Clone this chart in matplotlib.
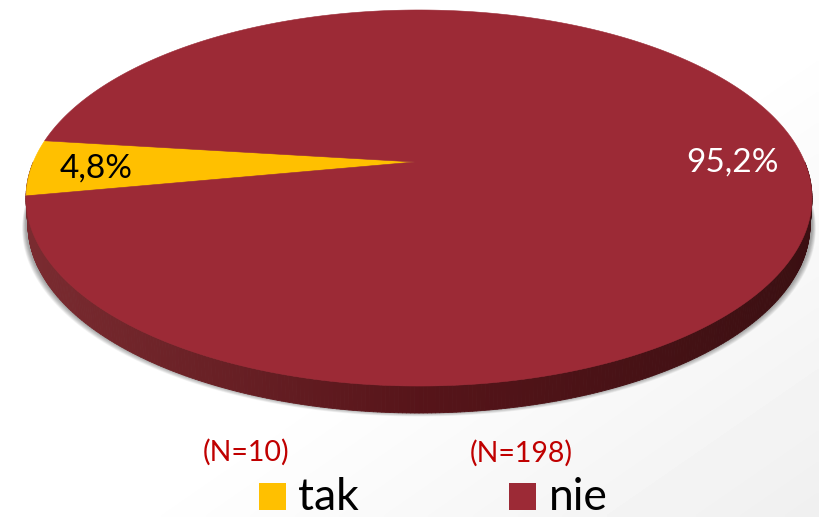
import numpy as np
import matplotlib
matplotlib.use("Agg")
import matplotlib.pyplot as plt
from matplotlib.patches import Polygon, Rectangle
from matplotlib.collections import PolyCollection

categories = ["tak", "nie"]
percents = [4.8, 95.2]
counts = [10, 198]
colors = ["#FFC000", "#9C2A36"]
labels = ["4,8%", "95,2%"]

W, H = 819, 517
plt.rcParams['font.family'] = ['Lato', 'DejaVu Sans']
fig = plt.figure(figsize=(W / 100, H / 100), dpi=100)
ax = fig.add_axes([0, 0, 1, 1])
ax.set_xlim(0, W)
ax.set_ylim(H, 0)
ax.axis("off")

# background: white with faint grey towards the lower right
yy, xx = np.mgrid[0:1:130j, 0:1:200j]
bg = np.clip((xx - 0.55) * 0.55 + (yy - 0.55) * 0.5, 0, 1) * 0.13
ax.imshow(1 - bg, extent=[0, W, H, 0], cmap="gray", vmin=0, vmax=1,
          aspect="auto", zorder=0, interpolation="bilinear")

# perspective disc: unit circle -> picture
CX, APEX_Y, AY, P, CU = 419.0, 162.0, 150.1, -0.1915, 385.7


def project(theta, r=1.0):
    u, v = r * np.cos(theta), r * np.sin(theta)
    d = 1 + P * v
    return CX + CU * u / d, (AY * v + APEX_Y) / d


ring = np.linspace(0, 2 * np.pi, 721)
rx, ry = project(ring)
DEPTH = 27

# soft shadow below the disc
for i in range(10):
    s = 10 - i
    ax.add_patch(Polygon(np.c_[(rx - CX) * (1 + s * 0.0010) + CX,
                               ry + DEPTH + s * 0.45 - 1],
                         closed=True, fc="black", ec="none", alpha=0.04, zorder=1))

# side wall, shaded from left to right
wall_stops = np.array([[0.48, 0.17, 0.19], [0.34, 0.08, 0.10], [0.23, 0.06, 0.07]])
th = np.linspace(0, np.pi, 361)
x0, y0 = project(th)
x1, y1 = x0 + (CX - x0) * 0.005, y0 + DEPTH
quads = [[(x0[i], y0[i]), (x0[i + 1], y0[i + 1]), (x1[i + 1], y1[i + 1]), (x1[i], y1[i])]
         for i in range(len(th) - 1)]
tx = (x0[:-1] - x0.min()) / (x0.max() - x0.min())
wall = np.c_[[np.interp(tx, [0, 0.5, 1], wall_stops[:, k]) for k in range(3)]].T
ax.add_collection(PolyCollection(quads, facecolors=wall, edgecolors=wall, linewidths=0.6, zorder=2))

# top face, slices placed by share of the circle
start = np.deg2rad(180 - 10.4)
angle = start
for pct, col in zip(percents, colors):
    sweep = 2 * np.pi * pct / 100
    t = np.linspace(angle, angle + sweep, max(int(pct * 8), 8))
    px, py = project(t)
    ax.add_patch(Polygon(np.r_[[[CX - 4, APEX_Y]], np.c_[px, py]], closed=True,
                         fc=col, ec=col, lw=0.4, zorder=3))
    angle += sweep

ax.text(96, 169, labels[0], color="black", fontsize=24, ha="center", va="center", zorder=4)
ax.text(732, 163, labels[1], color="white", fontsize=24, ha="center", va="center", zorder=4)

# legend and counts
leg_x = [259, 509]
txt_x = [298, 549]
n_x = [246, 521]
n_y = [452, 453]
for i, cat in enumerate(categories):
    ax.add_patch(Rectangle((leg_x[i], 483), 27, 27, fc=colors[i], ec="none", zorder=4))
    ax.text(txt_x[i], 510, cat, color="black", fontsize=32, ha="left", va="baseline", zorder=4)
    ax.text(n_x[i], n_y[i], f"(N={counts[i]})", color="#C00000", fontsize=20.5,
            ha="center", va="center", zorder=4)

fig.savefig("out.png", dpi=100)
